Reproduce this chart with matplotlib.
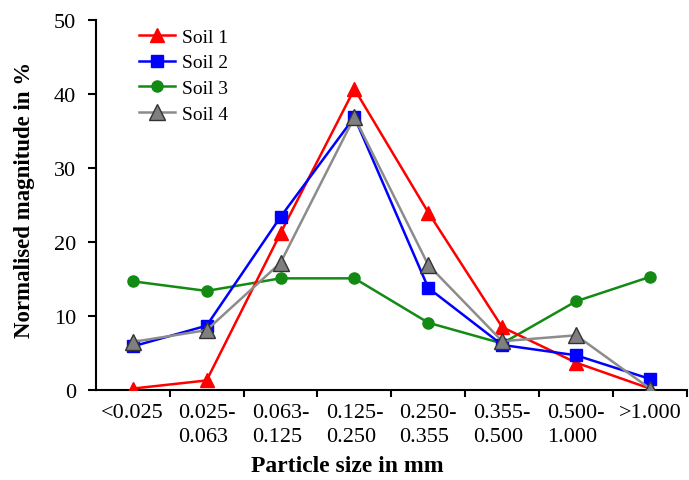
import matplotlib
matplotlib.use("Agg")
import matplotlib.pyplot as plt

categories = ["<0.025", "0.025-\n0.063", "0.063-\n0.125", "0.125-\n0.250",
              "0.250-\n0.355", "0.355-\n0.500", "0.500-\n1.000", ">1.000"]
soil1 = [0.2, 1.3, 21.2, 40.7, 24.0, 8.5, 3.7, 0.2]
soil2 = [5.9, 8.7, 23.4, 36.9, 13.8, 6.1, 4.7, 1.5]
soil3 = [14.7, 13.4, 15.1, 15.1, 9.1, 6.3, 12.0, 15.3]
soil4 = [6.5, 8.1, 17.2, 36.9, 16.9, 6.6, 7.4, 0.2]

plt.rcParams['font.family'] = ['Liberation Serif', 'DejaVu Serif']

fig = plt.figure(figsize=(6.89, 4.81), dpi=100)
ax = fig.add_axes([0.139, 0.187, 0.858, 0.769])

x = list(range(len(categories)))
ax.plot(x, soil3, color='#138a13', lw=1.8, marker='o', ms=8, label='Soil 3', zorder=2)
ax.plot(x, soil1, color='#ff0000', lw=1.8, marker='^', ms=10, label='Soil 1', zorder=3)
ax.plot(x, soil2, color='#0000ff', lw=1.8, marker='s', ms=8, label='Soil 2', zorder=4)
ax.plot(x, soil4, color='#8c8c8c', lw=1.8, marker='^', ms=11, mfc='#7f7f7f',
        mec='#333333', mew=1.0, label='Soil 4', zorder=5)

ax.set_xlim(-0.5, 7.5)
ax.set_ylim(0, 50)
ax.set_yticks([0, 10, 20, 30, 40, 50])
ax.set_xticks(x)
ax.set_xticklabels(categories, fontsize=16, linespacing=1.4)
for lab in ax.get_xticklabels():
    lab.set_multialignment('left')
ax.tick_params(axis='x', which='major', length=0, pad=9)
ax.set_xticks([i + 0.5 for i in x], minor=True)
ax.tick_params(axis='x', which='minor', length=5, width=1.5, direction='out')
ax.tick_params(axis='y', labelsize=16, length=6, width=1.5, direction='out', pad=8)

for s in ['top', 'right']:
    ax.spines[s].set_visible(False)
for s in ['left', 'bottom']:
    ax.spines[s].set_linewidth(1.5)

fig.text(347 / 689, 1 - 466 / 481, 'Particle size in mm', fontsize=17,
         fontweight='bold', ha='center', va='center')
fig.text(25 / 689, 1 - 200 / 481, 'Normalised magnitude in %', fontsize=16.5,
         fontweight='bold', ha='center', va='center', rotation=90)

handles, labels = ax.get_legend_handles_labels()
order = [1, 2, 0, 3]
ax.legend([handles[i] for i in order], [labels[i] for i in order],
          loc='upper left', bbox_to_anchor=(0.056, 1.005), frameon=False,
          fontsize=14, handlelength=1.85, handletextpad=0.4,
          labelspacing=0.42, borderaxespad=0.1)

fig.savefig('out.png', dpi=100)
